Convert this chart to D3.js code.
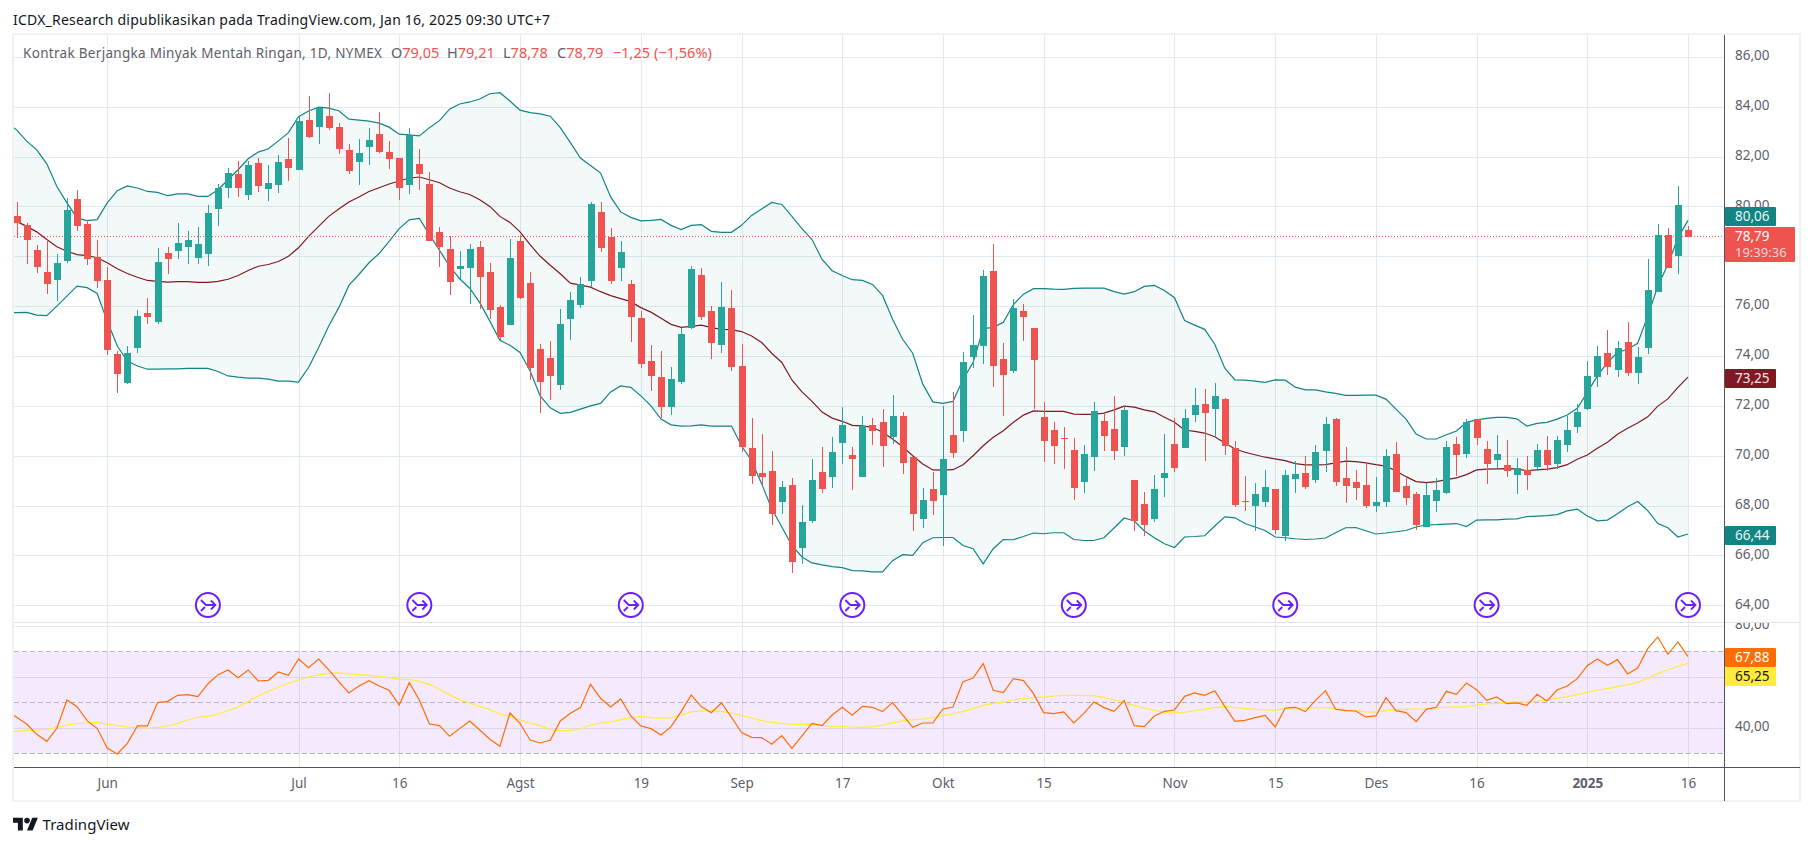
<!DOCTYPE html>
<html>
<head>
<meta charset="utf-8">
<title>Kontrak Berjangka Minyak Mentah Ringan</title>
<script src="https://cdn.jsdelivr.net/npm/d3@7/dist/d3.min.js"></script>
<style>
    body { margin: 0; background: #fff; }
    text { font-family: "Noto Sans", "Open Sans", sans-serif; }
</style>
</head>
<body>
<script>
/**** data, one value per daily bar ****/
var opens = [
    79.63,79.27,78.27,77.35,77.03,77.83,80.31,79.31,77.99,77.03,
    74.07,72.91,74.31,75.71,75.35,78.15,78.23,78.39,77.95,78.11,
    79.91,80.75,81.31,80.47,81.75,80.71,80.87,81.91,81.47,83.47,
    83.19,83.63,83.19,82.27,81.79,82.39,82.91,82.19,81.95,80.87,
    81.71,80.91,78.99,78.31,77.47,77.51,78.39,77.35,75.95,75.23,
    78.63,76.91,74.27,73.91,72.83,75.47,76.03,76.99,79.79,78.79,
    77.52,76.87,75.51,73.79,73.15,71.95,72.95,75.11,77.23,75.79,
    74.43,75.91,73.59,70.31,69.31,69.39,68.15,68.83,66.31,67.39,
    69.35,69.15,70.51,70.03,69.15,71.23,71.35,70.75,71.59,69.95,
    67.47,68.67,68.43,70.83,70.99,73.95,74.39,77.39,73.87,73.39,
    75.79,75.11,71.55,71.03,70.71,70.23,68.95,69.95,71.39,71.07,
    70.35,69.03,68.07,67.47,69.11,70.47,70.31,71.63,72.07,71.87,
    72.27,70.31,68.19,67.99,68.15,68.67,66.79,69.07,69.31,69.03,
    70.19,71.47,69.11,68.95,68.83,67.99,68.15,70.07,68.79,68.47,
    67.15,68.19,68.51,70.47,70.07,71.47,70.27,69.83,69.63,69.23,
    69.43,69.55,70.23,69.67,70.43,71.15,71.87,73.15,74.11,73.43,
    74.55,73.31,74.31,76.55,78.87,78.03,79.05
];
var highs = [
    80.16,79.34,78.47,78.67,78.11,80.34,80.67,79.47,78.67,77.55,
    74.19,74.39,75.83,76.31,78.35,78.39,79.35,79.03,79.19,80.07,
    80.91,81.55,81.83,81.83,81.95,81.67,82.07,82.75,83.63,84.43,
    84.00,84.55,83.35,82.51,82.71,83.15,83.79,82.63,81.95,83.15,
    82.31,81.39,79.19,78.83,78.23,78.51,78.63,77.75,76.03,78.71,
    78.87,77.35,74.50,74.59,75.87,76.55,77.15,80.19,80.19,79.15,
    78.63,77.03,75.79,74.43,74.19,73.55,75.14,77.63,77.51,75.99,
    76.95,76.63,74.47,71.51,70.87,70.19,68.99,69.11,68.03,69.87,
    70.35,70.75,71.95,70.35,71.59,71.51,71.87,72.43,71.75,69.95,
    68.71,69.35,71.99,72.55,74.15,75.63,77.43,78.51,74.51,76.27,
    76.07,75.11,72.15,71.35,71.15,70.71,70.43,72.15,71.67,72.39,
    71.99,69.03,68.55,69.23,70.87,71.51,71.87,72.71,72.67,72.91,
    72.31,70.59,69.19,68.91,69.43,68.67,69.43,69.79,69.99,70.43,
    71.55,71.51,70.35,69.43,69.75,69.15,70.27,70.55,69.19,68.55,
    68.91,69.11,70.59,70.75,71.47,71.47,70.59,70.83,70.63,69.91,
    69.99,70.47,70.79,70.79,71.59,72.07,73.79,74.39,75.03,74.59,
    75.35,74.35,77.91,79.31,79.15,80.83,79.21
];
var lows = [
    78.72,77.71,77.31,76.47,76.20,77.75,79.03,77.67,76.71,74.03,
    72.51,72.87,74.11,75.27,75.27,77.27,77.91,77.71,77.71,77.63,
    79.23,80.35,80.39,80.27,80.59,80.23,80.55,81.03,81.47,82.75,
    82.51,83.07,82.11,81.31,80.87,81.67,82.15,81.51,80.27,80.51,
    80.67,78.63,77.59,76.43,77.07,76.07,75.87,75.47,74.63,75.23,
    76.27,73.03,71.71,72.23,72.63,74.63,75.91,76.75,78.19,76.87,
    76.99,74.55,73.51,72.59,71.51,71.63,72.87,75.07,75.43,73.87,
    74.11,73.39,70.15,68.87,68.79,67.23,67.67,65.31,65.67,67.31,
    68.51,68.71,69.67,68.63,69.15,70.43,69.55,70.47,69.27,66.99,
    67.11,67.63,66.39,69.91,70.55,73.51,73.67,72.75,71.59,73.31,
    74.59,71.87,69.75,69.67,69.47,68.23,68.51,69.39,70.19,69.83,
    69.99,66.99,66.79,67.35,68.35,69.35,70.31,71.35,69.79,70.80,
    70.03,67.95,67.79,66.99,67.95,66.87,66.59,68.51,68.67,68.91,
    69.35,68.79,68.11,68.23,67.91,67.75,67.95,68.55,68.03,67.03,
    67.15,67.75,68.47,69.19,69.91,70.43,68.87,69.43,69.15,68.47,
    68.63,69.39,69.39,69.47,70.15,70.91,71.83,72.75,73.23,73.15,
    73.19,72.87,74.07,76.55,77.51,77.27,78.78
];
var closes = [
    79.32,78.67,77.59,76.87,77.75,79.87,79.23,77.91,76.99,74.23,
    73.27,74.11,75.59,75.55,77.79,77.91,78.55,78.67,78.51,79.75,
    80.75,81.35,80.75,81.67,80.83,80.95,81.79,81.55,83.43,82.79,
    83.95,83.15,82.31,81.43,82.15,82.67,82.19,81.91,80.75,82.87,
    81.31,78.63,78.39,76.95,77.63,78.31,77.15,75.83,74.75,77.95,
    76.31,73.51,72.95,73.19,75.27,76.23,76.87,80.11,78.35,76.99,
    78.19,75.56,73.67,73.19,71.95,73.07,74.87,77.47,75.55,74.51,
    75.95,73.55,70.35,69.19,69.15,67.67,68.75,65.75,67.35,69.03,
    68.67,70.15,71.23,69.87,71.19,70.99,70.39,71.59,69.71,67.67,
    68.23,68.19,69.87,70.11,73.75,74.43,77.19,73.59,73.23,75.91,
    75.55,73.83,70.59,70.39,70.68,68.71,70.07,71.79,70.79,70.19,
    71.83,67.39,67.23,68.67,69.31,69.51,71.51,72.03,71.71,72.39,
    70.39,68.03,68.15,68.47,68.75,67.03,69.23,69.27,68.75,70.15,
    71.27,68.95,68.79,68.71,67.99,68.15,69.99,68.55,68.31,67.23,
    68.43,68.63,70.35,70.03,71.35,70.71,69.67,70.07,69.39,69.51,
    69.23,70.23,69.63,70.63,71.03,71.75,73.19,73.99,73.55,74.31,
    73.31,73.95,76.63,78.87,77.51,80.07,78.79
];
//bollinger bands
var bbUpper = [
    83.07,82.62,82.27,81.71,80.80,80.14,79.54,79.43,79.47,80.14,
    80.63,80.82,80.74,80.60,80.56,80.43,80.50,80.50,80.40,80.40,
    80.67,81.07,81.47,81.91,82.18,82.31,82.63,82.96,83.60,83.83,
    83.98,83.94,83.84,83.50,83.46,83.42,83.34,83.18,82.90,82.87,
    82.83,83.16,83.44,83.90,84.11,84.19,84.31,84.52,84.56,84.23,
    83.86,83.76,83.71,83.62,83.16,82.56,81.94,81.64,81.34,80.38,
    79.78,79.56,79.42,79.44,79.48,79.24,79.07,79.24,79.27,79.00,
    78.96,78.96,79.24,79.64,79.90,80.16,80.08,79.60,79.11,78.67,
    77.87,77.42,77.23,77.06,77.03,76.87,76.43,75.47,74.67,74.11,
    72.87,72.16,72.10,72.18,73.07,73.74,75.10,75.15,75.35,76.06,
    76.48,76.70,76.70,76.68,76.67,76.71,76.72,76.72,76.72,76.58,
    76.48,76.58,76.79,76.83,76.63,76.34,75.42,75.24,75.07,74.47,
    73.51,73.04,73.03,72.99,72.94,73.04,73.03,72.75,72.64,72.64,
    72.56,72.50,72.42,72.42,72.43,72.43,72.27,71.87,71.47,70.87,
    70.67,70.67,70.84,70.99,71.34,71.44,71.50,71.54,71.54,71.48,
    71.19,71.30,71.34,71.47,71.63,71.90,72.54,73.20,73.74,74.14,
    74.27,74.51,75.60,76.80,77.67,78.74,79.44
];
var bbBasis = [
    79.40,79.20,78.98,78.67,78.38,78.20,78.07,78.03,77.94,77.74,
    77.50,77.31,77.16,77.03,76.99,76.96,76.98,76.98,76.95,76.95,
    76.99,77.08,77.23,77.43,77.60,77.67,77.79,78.00,78.34,78.80,
    79.20,79.60,79.90,80.18,80.38,80.60,80.75,80.90,81.02,81.14,
    81.18,81.07,80.95,80.74,80.59,80.48,80.27,80.00,79.60,79.36,
    78.98,78.47,78.00,77.64,77.30,76.92,76.84,76.76,76.58,76.42,
    76.30,76.18,75.94,75.76,75.51,75.27,75.15,75.19,75.24,75.14,
    75.07,75.06,74.98,74.80,74.54,74.11,73.74,73.04,72.56,72.18,
    71.75,71.51,71.38,71.22,71.20,71.14,70.94,70.67,70.36,70.00,
    69.67,69.43,69.42,69.44,69.64,70.00,70.40,70.74,71.00,71.34,
    71.63,71.80,71.78,71.78,71.78,71.67,71.66,71.66,71.71,71.84,
    71.99,71.95,71.84,71.76,71.54,71.34,71.03,70.98,70.91,70.76,
    70.51,70.27,70.14,70.04,69.94,69.87,69.80,69.68,69.63,69.63,
    69.64,69.71,69.78,69.76,69.71,69.64,69.58,69.39,69.16,68.96,
    68.92,68.96,69.04,69.11,69.24,69.43,69.46,69.47,69.48,69.47,
    69.40,69.43,69.46,69.52,69.64,69.86,70.03,70.30,70.54,70.86,
    71.10,71.31,71.56,71.99,72.28,72.74,73.15
];
var bbLower = [
    75.74,75.75,75.64,75.62,76.00,76.40,76.80,76.74,76.51,75.40,
    74.40,73.80,73.60,73.47,73.47,73.48,73.48,73.50,73.50,73.50,
    73.38,73.20,73.15,73.11,73.11,73.07,72.99,72.99,72.95,73.54,
    74.34,75.20,75.94,76.83,77.27,77.74,78.11,78.60,79.11,79.46,
    79.52,78.87,78.24,77.60,77.10,76.72,76.14,75.40,74.63,74.43,
    74.14,73.40,72.40,71.92,71.70,71.74,71.87,72.00,72.10,72.56,
    72.80,72.74,72.40,72.00,71.47,71.24,71.19,71.20,71.24,71.19,
    71.19,71.19,70.40,69.80,68.87,67.87,67.14,66.40,65.94,65.70,
    65.62,65.55,65.51,65.39,65.38,65.34,65.34,65.79,66.03,66.00,
    66.51,66.71,66.72,66.72,66.40,66.27,65.66,66.27,66.64,66.63,
    66.76,66.90,66.87,66.91,66.91,66.64,66.60,66.60,66.71,67.10,
    67.50,67.38,66.98,66.71,66.47,66.32,66.74,66.76,66.79,67.18,
    67.55,67.51,67.28,67.14,67.00,66.74,66.71,66.67,66.64,66.66,
    66.70,66.91,67.11,67.12,66.99,66.86,66.90,66.95,67.00,67.14,
    67.23,67.24,67.26,67.28,67.16,67.42,67.43,67.43,67.46,67.47,
    67.56,67.58,67.60,67.64,67.79,67.86,67.58,67.39,67.42,67.67,
    67.95,68.16,67.80,67.28,67.11,66.74,66.86
];
//rsi pane
var rsi = [
    44.12,41.50,37.45,34.70,39.80,50.91,48.30,42.81,39.80,32.09,
    29.74,33.92,40.72,40.72,49.87,50.39,52.74,53.00,52.22,57.19,
    60.85,62.68,59.67,62.68,58.36,58.62,61.89,60.59,66.99,63.59,
    66.99,62.68,58.10,53.66,56.40,58.49,56.40,54.70,48.95,57.71,
    50.91,41.50,40.85,36.66,39.67,42.68,39.15,35.49,32.74,45.81,
    41.76,35.23,34.05,35.10,42.68,45.68,47.91,57.06,51.57,48.17,
    51.30,44.64,40.72,39.67,37.19,40.45,46.34,52.87,48.30,45.94,
    49.74,44.12,38.10,36.27,36.14,33.53,36.93,31.96,36.79,41.76,
    40.85,45.03,48.04,44.90,48.43,48.04,46.34,49.87,45.03,40.19,
    41.89,41.89,47.38,48.17,58.10,59.54,65.16,54.70,53.79,59.28,
    58.49,53.40,45.94,45.55,46.21,41.89,45.68,50.13,47.91,46.47,
    50.65,40.85,40.45,44.64,46.47,46.99,52.35,53.66,52.74,54.57,
    48.30,42.55,42.94,43.98,44.90,40.32,47.77,48.04,46.34,50.78,
    54.57,47.25,46.73,46.60,44.25,44.64,51.83,46.73,45.94,42.42,
    47.25,48.04,54.31,53.13,57.58,54.96,50.78,52.09,49.47,49.74,
    48.82,53.13,50.52,54.83,56.40,59.28,64.38,66.99,64.51,66.73,
    61.11,63.46,71.04,75.62,68.82,73.66,67.88
];
var rsiMa = [
    38.62,39.02,39.15,39.41,40.06,41.11,41.76,41.89,42.15,41.37,
    40.85,40.32,40.19,39.93,40.19,40.72,41.76,43.07,44.12,44.51,
    45.42,46.73,48.17,50.26,52.48,54.31,55.88,57.45,58.76,59.93,
    60.72,61.37,61.50,61.11,60.85,60.59,60.19,59.67,59.02,59.02,
    58.23,56.93,55.10,53.00,51.04,49.74,48.43,47.12,45.42,44.51,
    43.07,41.89,40.85,39.28,38.76,39.02,39.54,41.11,41.89,42.28,
    43.20,43.98,44.51,43.98,43.72,43.98,45.03,46.21,46.60,46.60,
    46.47,45.81,44.77,43.85,42.81,42.15,41.76,41.37,41.37,41.37,
    40.98,40.59,40.45,40.32,40.19,40.45,40.98,42.02,42.68,43.20,
    43.46,43.98,44.90,45.42,46.47,47.51,48.82,49.61,50.00,50.91,
    51.57,51.83,52.09,52.48,52.74,52.74,52.61,52.61,51.96,50.91,
    50.00,48.82,47.77,46.86,46.08,45.81,46.08,46.73,47.25,48.04,
    48.30,47.91,47.51,47.25,46.99,46.86,47.64,47.77,47.77,47.91,
    47.91,47.51,46.99,46.60,46.21,46.21,46.73,47.12,47.25,47.38,
    47.38,47.77,48.04,48.17,48.30,48.95,49.34,49.61,50.00,50.13,
    50.13,50.39,50.91,51.57,52.22,53.00,53.92,54.83,55.36,56.14,
    56.93,57.84,59.41,61.37,62.68,64.12,65.25
];
//the bar just before the left edge, only its line segments show
var prevUpper = 83.37, prevBasis = 79.67, prevLower = 75.74, prevRsi = 46.73, prevRsiMa = 38.49;
//time axis: bar number and label of each tick
var timeTickBars = [9, 28, 38, 50, 62, 72, 82, 92, 102, 115, 125, 135, 145, 156, 166];
var timeTickLabels = ["Jun", "Jul", "16", "Agst", "19", "Sep", "17", "Okt", "15", "Nov", "15", "Des", "16", "2025", "16"];
var priceGrid = [64, 66, 68, 70, 72, 74, 76, 78, 80, 82, 84, 86];
var priceTicks = [64, 66, 68, 70, 72, 74, 76, 80, 82, 84, 86]; //78,00 sits behind the last price label
var rsiTicks = [40, 80];
var rsiGrid = [40, 60, 80];
var rsiBands = [30, 50, 70];
var eventBars = [19, 40, 61, 83, 105, 126, 146, 166];
//value labels on the price scale
var lastUpper = "80,06", lastPrice = "78,79", countdown = "19:39:36", lastBasis = "73,25", lastLower = "66,44";
var lastRsi = "67,88", lastRsiMa = "65,25";

/**** prepare the canvas ****/
var w = 1814, h = 846;
var plotL = 14, axisX = 1724, frameR = 1800;
var priceTop = 35, paneSep = 622, timeAxisY = 767, frameB = 801;
var upColor = "#26a69a", downColor = "#ef5350", bbColor = "#138484", basisColor = "#801922";

var svg = d3.select("body").append("svg")
    .attr("class", "chart")
    .attr("width", w)
    .attr("height", h)
    .style("display", "block");

var defs = svg.append("defs");
defs.append("clipPath").attr("id", "priceClip").append("rect")
    .attr("x", plotL).attr("y", priceTop).attr("width", axisX - plotL).attr("height", paneSep - priceTop);
defs.append("clipPath").attr("id", "rsiClip").append("rect")
    .attr("x", plotL).attr("y", paneSep).attr("width", axisX - plotL).attr("height", timeAxisY - paneSep);
defs.append("clipPath").attr("id", "rsiAxisClip").append("rect")
    .attr("x", axisX).attr("y", paneSep + 1).attr("width", frameR - axisX).attr("height", timeAxisY - paneSep);

/**** scales ****/
var bars = d3.range(closes.length);
var lineBars = [-1].concat(bars);
var x = d3.scaleLinear().domain([0, closes.length - 1]).range([16.6, 1688]);
var y = d3.scaleLinear().domain([64, 84]).range([605.3, 106.7]);
var yRsi = d3.scaleLinear().domain([30, 70]).range([753.3, 651.3]);
var comma = d3.formatLocale({decimal: ",", thousands: ".", grouping: [3], currency: ["", ""]}).format(".2f");

/**** grid ****/
var grid = svg.append("g").attr("class", "grid")
    .attr("stroke", "#e1eaf0")
    .attr("shape-rendering", "crispEdges");
grid.selectAll(".vGrid")
    .data(timeTickBars)
    .enter()
    .append("line")
    .attr("class", "vGrid")
    .attr("x1", function(d){ return Math.round(x(d)) + 0.5; })
    .attr("x2", function(d){ return Math.round(x(d)) + 0.5; })
    .attr("y1", priceTop)
    .attr("y2", timeAxisY);
grid.selectAll(".hGrid")
    .data(priceGrid)
    .enter()
    .append("line")
    .attr("class", "hGrid")
    .attr("x1", plotL)
    .attr("x2", axisX)
    .attr("y1", function(d){ return Math.round(y(d)) + 0.5; })
    .attr("y2", function(d){ return Math.round(y(d)) + 0.5; });
grid.selectAll(".rsiGrid")
    .data(rsiGrid)
    .enter()
    .append("line")
    .attr("class", "rsiGrid")
    .attr("x1", plotL)
    .attr("x2", axisX)
    .attr("y1", function(d){ return Math.round(yRsi(d)) + 0.5; })
    .attr("y2", function(d){ return Math.round(yRsi(d)) + 0.5; });

/**** price pane ****/
var pricePane = svg.append("g").attr("class", "pricePane").attr("clip-path", "url(#priceClip)");

//band fill goes under everything
var bandArea = d3.area()
    .x(function(d){ return x(d); })
    .y0(function(d){ return y(d < 0 ? prevLower : bbLower[d]); })
    .y1(function(d){ return y(d < 0 ? prevUpper : bbUpper[d]); });
pricePane.append("path")
    .datum(lineBars)
    .attr("class", "bbFill")
    .attr("d", bandArea)
    .attr("fill", bbColor)
    .attr("fill-opacity", 0.05);

function seriesLine(scale, values, prev){
    return d3.line()
        .x(function(d){ return x(d); })
        .y(function(d){ return scale(d < 0 ? prev : values[d]); });
}
pricePane.append("path").datum(lineBars).attr("class", "bbUpper")
    .attr("d", seriesLine(y, bbUpper, prevUpper)).attr("fill", "none").attr("stroke", bbColor).attr("stroke-width", 1.2);
pricePane.append("path").datum(lineBars).attr("class", "bbLower")
    .attr("d", seriesLine(y, bbLower, prevLower)).attr("fill", "none").attr("stroke", bbColor).attr("stroke-width", 1.2);
pricePane.append("path").datum(lineBars).attr("class", "bbBasis")
    .attr("d", seriesLine(y, bbBasis, prevBasis)).attr("fill", "none").attr("stroke", basisColor).attr("stroke-width", 1.2);

//dotted line at the last price
pricePane.append("line")
    .attr("class", "lastPriceLine")
    .attr("x1", plotL)
    .attr("x2", axisX)
    .attr("y1", y(closes[closes.length - 1]))
    .attr("y2", y(closes[closes.length - 1]))
    .attr("stroke", downColor)
    .attr("stroke-width", 1)
    .attr("stroke-dasharray", "1 2");

//candles
function barColor(d){ return closes[d] >= opens[d] ? upColor : downColor; }
var candles = pricePane.append("g").attr("class", "candles").attr("shape-rendering", "crispEdges");
candles.selectAll(".wick")
    .data(bars)
    .enter()
    .append("line")
    .attr("class", "wick")
    .attr("x1", function(d){ return Math.round(x(d)) + 0.5; })
    .attr("x2", function(d){ return Math.round(x(d)) + 0.5; })
    .attr("y1", function(d){ return y(highs[d]); })
    .attr("y2", function(d){ return y(lows[d]); })
    .attr("stroke", barColor);
candles.selectAll(".body")
    .data(bars)
    .enter()
    .append("rect")
    .attr("class", "body")
    .attr("x", function(d){ return Math.round(x(d)) - 3; })
    .attr("width", 7)
    .attr("y", function(d){ return y(Math.max(opens[d], closes[d])); })
    .attr("height", function(d){ return Math.max(1, Math.abs(y(opens[d]) - y(closes[d]))); })
    .attr("fill", barColor);

//event icons
var icons = pricePane.selectAll(".eventIcon")
    .data(eventBars)
    .enter()
    .append("g")
    .attr("class", "eventIcon")
    .attr("transform", function(d){ return "translate(" + x(d) + ",605)"; });
icons.append("circle")
    .attr("r", 12)
    .attr("fill", "#fff")
    .attr("stroke", "#6a1fff")
    .attr("stroke-width", 2);
icons.append("path")
    .attr("d", "M-7,-5 L-2,0 L7,0 M3,-4.5 L7.5,0 L3,4.5 M-7,6 L-3,2")
    .attr("fill", "none")
    .attr("stroke", "#6a1fff")
    .attr("stroke-width", 1.8);

/**** rsi pane ****/
var rsiPane = svg.append("g").attr("class", "rsiPane").attr("clip-path", "url(#rsiClip)");
rsiPane.append("rect")
    .attr("class", "rsiBg")
    .attr("x", plotL)
    .attr("width", axisX - plotL)
    .attr("y", yRsi(70))
    .attr("height", yRsi(30) - yRsi(70))
    .attr("fill", "#9b27f0")
    .attr("fill-opacity", 0.1);
rsiPane.selectAll(".rsiBand")
    .data(rsiBands)
    .enter()
    .append("line")
    .attr("class", "rsiBand")
    .attr("x1", plotL)
    .attr("x2", axisX)
    .attr("y1", function(d){ return Math.round(yRsi(d)) + 0.5; })
    .attr("y2", function(d){ return Math.round(yRsi(d)) + 0.5; })
    .attr("stroke", "#b2b5be")
    .attr("stroke-dasharray", "5 3")
    .attr("shape-rendering", "crispEdges");
rsiPane.append("path").datum(lineBars).attr("class", "rsiMa")
    .attr("d", seriesLine(yRsi, rsiMa, prevRsiMa)).attr("fill", "none").attr("stroke", "#ffeb3b").attr("stroke-width", 1.2);
rsiPane.append("path").datum(lineBars).attr("class", "rsiLine")
    .attr("d", seriesLine(yRsi, rsi, prevRsi)).attr("fill", "none").attr("stroke", "#ff6d00").attr("stroke-width", 1.2);

/**** axes ****/
function styleAxis(g){
    g.select(".domain").remove();
    g.selectAll("line").remove();
    g.selectAll("text")
        .attr("fill", "#5d606b")
        .style("font-size", "13.5px");
}
var priceAxis = d3.axisRight(y)
    .tickValues(priceTicks)
    .tickSize(0)
    .tickPadding(11)
    .tickFormat(comma);
svg.append("g")
    .attr("class", "axis priceAxis")
    .attr("transform", "translate(" + axisX + ",-1.5)")
    .call(priceAxis)
    .call(styleAxis);
var rsiAxis = d3.axisRight(yRsi)
    .tickValues(rsiTicks)
    .tickSize(0)
    .tickPadding(11)
    .tickFormat(comma);
svg.append("g")
    .attr("clip-path", "url(#rsiAxisClip)")
    .append("g")
    .attr("class", "axis rsiAxis")
    .attr("transform", "translate(" + axisX + ",-1.5)")
    .call(rsiAxis)
    .call(styleAxis);
var timeAxis = d3.axisBottom(x)
    .tickValues(timeTickBars)
    .tickSize(0)
    .tickPadding(11)
    .tickFormat(function(d, i){ return timeTickLabels[i]; });
svg.append("g")
    .attr("class", "axis timeAxis")
    .attr("transform", "translate(0," + timeAxisY + ")")
    .call(timeAxis)
    .call(styleAxis)
    .selectAll("text")
    .style("font-weight", function(d, i){ return timeTickLabels[i] === "2025" ? "bold" : "normal"; });

/**** frame and separators ****/
var frame = svg.append("g").attr("class", "frame").attr("shape-rendering", "crispEdges");
frame.append("rect")
    .attr("x", 13).attr("y", 34)
    .attr("width", frameR - 13).attr("height", frameB - 34)
    .attr("fill", "none")
    .attr("stroke", "#eff1f7")
    .attr("stroke-width", 2);
frame.append("line")
    .attr("x1", plotL).attr("x2", frameR)
    .attr("y1", paneSep + 0.5).attr("y2", paneSep + 0.5)
    .attr("stroke", "#e0e3eb");
frame.append("line")
    .attr("x1", plotL).attr("x2", frameR)
    .attr("y1", timeAxisY + 0.5).attr("y2", timeAxisY + 0.5)
    .attr("stroke", "#50535e");
frame.append("line")
    .attr("x1", axisX + 0.5).attr("x2", axisX + 0.5)
    .attr("y1", priceTop).attr("y2", frameB)
    .attr("stroke", "#50535e");

/**** value labels on the price scale ****/
function valueLabel(boxY, boxW, boxH, fill, textColor, label){
    var g = svg.append("g").attr("class", "valueLabel");
    g.append("rect")
        .attr("x", axisX + 1).attr("y", boxY)
        .attr("width", boxW).attr("height", boxH)
        .attr("rx", 1)
        .attr("fill", fill);
    g.append("text")
        .attr("x", axisX + 11)
        .attr("y", boxY + 14)
        .attr("fill", textColor)
        .style("font-size", "13.5px")
        .text(label);
    return g;
}
valueLabel(207, 51, 19, bbColor, "#e6f4f3", lastUpper);
var priceLabel = valueLabel(227, 70, 35, downColor, "#fff", lastPrice);
priceLabel.append("text")
    .attr("x", axisX + 11)
    .attr("y", 257)
    .attr("fill", "#fbd5d4")
    .style("font-size", "13px")
    .text(countdown);
valueLabel(369, 51, 19, basisColor, "#f6e8e9", lastBasis);
valueLabel(526, 51, 19, bbColor, "#e6f4f3", lastLower);
valueLabel(648, 51, 19, "#ff6d00", "#fff", lastRsi);
valueLabel(667, 51, 19, "#ffeb3b", "#131722", lastRsiMa);

/**** text ****/
svg.append("text")
    .attr("class", "title")
    .attr("x", 13)
    .attr("y", 25)
    .attr("fill", "#131722")
    .attr("textLength", 537)
    .style("font-size", "14px")
    .text("ICDX_Research dipublikasikan pada TradingView.com, Jan 16, 2025 09:30 UTC+7");

var legendY = 58;
svg.append("text")
    .attr("class", "legendName")
    .attr("x", 23)
    .attr("y", legendY)
    .attr("fill", "#5d606b")
    .attr("textLength", 359)
    .style("font-size", "13.5px")
    .text("Kontrak Berjangka Minyak Mentah Ringan, 1D, NYMEX");
var legendLetters = ["O", "H", "L", "C"];
var legendValues = ["79,05", "79,21", "78,78", "78,79"];
var legendX = [391, 447, 503, 557];
svg.selectAll(".legendItem")
    .data(legendLetters)
    .enter()
    .append("text")
    .attr("class", "legendItem")
    .attr("x", function(d, i){ return legendX[i]; })
    .attr("y", legendY)
    .attr("fill", "#5d606b")
    .style("font-size", "14.5px")
    .text(function(d){ return d; })
    .append("tspan")
    .attr("fill", downColor)
    .text(function(d, i){ return legendValues[i]; });
var legendChange = ["\u22121,25", "(\u22121,56%)"];
var legendChangeX = [613, 654];
svg.selectAll(".legendChange")
    .data(legendChange)
    .enter()
    .append("text")
    .attr("class", "legendChange")
    .attr("x", function(d, i){ return legendChangeX[i]; })
    .attr("y", legendY)
    .attr("fill", downColor)
    .style("font-size", "14.5px")
    .text(function(d){ return d; });

//tradingview mark
var logo = svg.append("g").attr("class", "logo").attr("transform", "translate(13,815) scale(0.7)");
logo.append("path")
    .attr("d", "M14 22H7V11H0V4h14v18zM28 22h-8l7.5-18h8L28 22z")
    .attr("fill", "#131722");
logo.append("circle").attr("cx", 20).attr("cy", 8).attr("r", 4).attr("fill", "#131722");
svg.append("text")
    .attr("class", "logoText")
    .attr("x", 42.5)
    .attr("y", 830)
    .attr("fill", "#131722")
    .attr("textLength", 87)
    .style("font-size", "15px")
    .text("TradingView");
</script>
</body>
</html>
